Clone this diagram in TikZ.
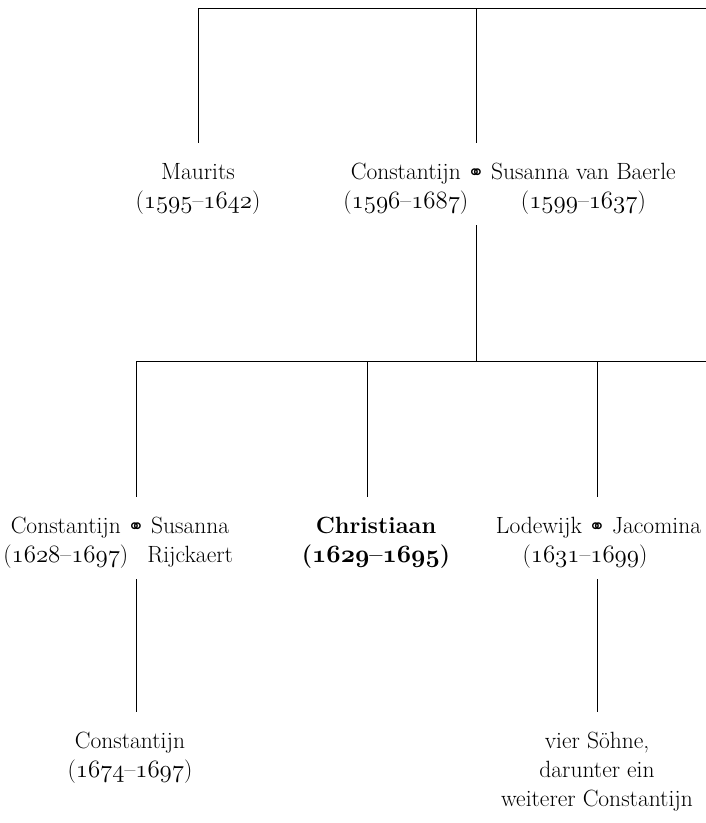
\documentclass[tikz,border=0pt]{standalone}
\usepackage{fontspec}
\newfontfamily\ringfont{DejaVu Sans}
\newcommand\osn[1]{{\fontencoding{OML}\fontfamily{cmm}\fontshape{it}\selectfont #1}}
\newcommand\lifespan[2]{(\osn{#1}–\osn{#2})}
\tikzset{
  person/.style={anchor=base, inner sep=0pt, text height=36pt},
  dates/.style={anchor=base, inner sep=0pt, text depth=17pt},
  ring/.style={anchor=base, inner sep=0pt, font=\ringfont\fontsize{20}{20}\selectfont},
}
\begin{document}
\begin{tikzpicture}[x=1pt, y=1pt, line width=0.7pt, font=\fontsize{23.5}{29}\selectfont]
    \useasboundingbox (0,0) rectangle (706,-823);
    \coordinate (top) at (706,-8);
    \coordinate (bar) at (706,-361);
    \coordinate (b2) at (367,-361);
    % first generation
    \node[person] (maurits) at (198,-179) {Maurits};
    \node[dates] (maurits-d) at ([yshift=-29pt]maurits.base) {\lifespan{1595}{1642}};
    \node[ring] (ring1) at (476,-179) {⚭};
    \node[person, anchor=base east] (const1) at ([xshift=-6pt]ring1.base west) {Constantijn};
    \node[person, anchor=base west] (susanna1) at ([xshift=6pt]ring1.base east) {Susanna van Baerle};
    \node[dates] (const1-d) at ([yshift=-29pt]const1.base) {\lifespan{1596}{1687}};
    \node[dates] (susanna1-d) at ([yshift=-29pt]susanna1.base) {\lifespan{1599}{1637}};
    % children
    \node[ring] (ring2) at (136,-533) {⚭};
    \node[person, anchor=base east] (const2) at ([xshift=-6pt]ring2.base west) {Constantijn};
    \node[person, anchor=base west] (susanna2) at ([xshift=6pt]ring2.base east) {Susanna};
    \node[dates] (const2-d) at ([yshift=-29pt]const2.base) {\lifespan{1628}{1697}};
    \node[dates] (susanna2-d) at ([yshift=-29pt]susanna2.base) {Rijckaert};
    \node[person] (christiaan) at (376,-533) {\bfseries Christiaan};
    \node[dates] (christiaan-d) at ([yshift=-29pt]christiaan.base) {\bfseries\lifespan{1629}{1695}};
    \node[ring] (ring3) at (597,-533) {⚭};
    \node[person, anchor=base east] (lodewijk) at ([xshift=-6pt]ring3.base west) {Lodewijk};
    \node[person, anchor=base west] (jacomina) at ([xshift=6pt]ring3.base east) {Jacomina};
    \node[dates] (lodewijk-d) at ([xshift=-12pt, yshift=-29pt]ring3.base) {\lifespan{1631}{1699}};
    % grandchildren
    \node[person] (const3) at (130,-748) {Constantijn};
    \node[dates] (const3-d) at ([yshift=-29pt]const3.base) {\lifespan{1674}{1697}};
    \node[person] (sons) at (597,-748) {vier Söhne,};
    \node[dates] (sons-2) at ([yshift=-29pt]sons.base) {darunter ein};
    \node[dates] (sons-3) at ([yshift=-29pt]sons-2.base) {weiterer Constantijn};
    % connectors
    \draw (maurits.north) |- (top);
    \draw (ring1 |- top) -- (ring1 |- const1.north);
    \draw (ring1 |- susanna1-d.south) -- (ring1 |- bar);
    \draw (ring2 |- const2.north) |- (bar);
    \draw (b2) -- (b2 |- christiaan.north);
    \draw (ring3 |- bar) -- (ring3 |- lodewijk.north);
    \draw (ring2 |- const2-d.south) -- (ring2 |- const3.north);
    \draw (ring3 |- lodewijk-d.south) -- (ring3 |- sons.north);
\end{tikzpicture}
\end{document}
